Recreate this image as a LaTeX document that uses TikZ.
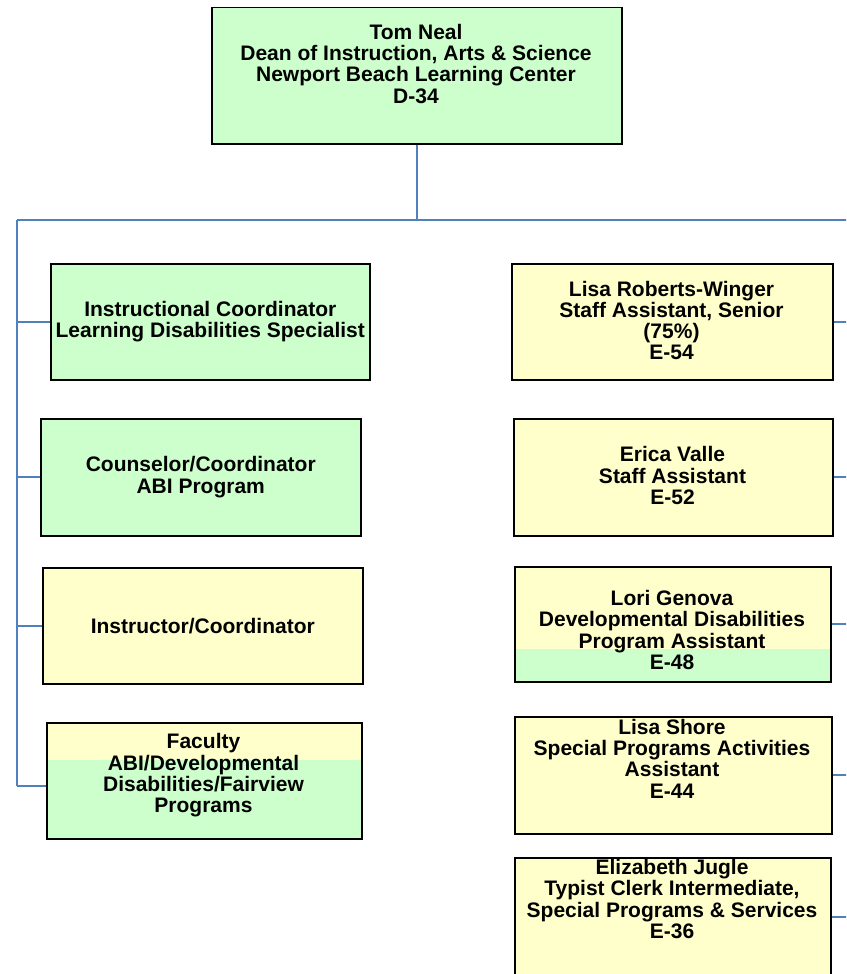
\documentclass[tikz,border=0pt]{standalone}
\usepackage{fontspec}
\setmainfont{Liberation Sans}
\definecolor{boxgreen}{HTML}{CCFFCC}
\definecolor{boxyellow}{HTML}{FFFFCC}
\definecolor{linkblue}{HTML}{4F81BD}
\begin{document}
\begin{tikzpicture}[x=1pt,y=-1pt,
  box/.style={draw=black, line width=1.5pt, inner sep=0pt, anchor=north west},
  greenbox/.style={box, fill=boxgreen},
  yellowbox/.style={box, fill=boxyellow},
  lbl/.style={font=\bfseries\fontsize{21}{21.3}\selectfont, align=center, inner sep=0pt},
  link/.style={draw=linkblue, line width=1.6pt},
  bus/.style={draw=linkblue, line width=2pt}]
\clip (0,0) rectangle (846,974);
\fill[white] (0,0) rectangle (846,974);
% coordinates of the buses
\coordinate (busL) at (17,220);
\coordinate (busR) at (856,220);
% top box
\node[greenbox, minimum width=410pt, minimum height=136pt] (dean) at (211,7) {};
\node[lbl] (deant) at (416,63.7) {Tom Neal\\Dean of Instruction, Arts \& Science\\Newport Beach Learning Center\\D-34};
% left column
\node[greenbox, minimum width=319pt, minimum height=116pt] (ic) at (50,263) {};
\node[lbl] (ict) at (ic.center) {Instructional Coordinator\\Learning Disabilities Specialist};
\node[greenbox, minimum width=320pt, minimum height=117pt] (cc) at (40,418) {};
\node[lbl] (cct) at (cc.center) {Counselor/Coordinator\\ABI Program};
\node[yellowbox, minimum width=320pt, minimum height=116pt] (instr) at (42,567) {};
\node[lbl] (instrt) at (instr.center) {Instructor/Coordinator};
\node[yellowbox, minimum width=315pt, minimum height=116pt,
  path picture={\fill[boxgreen] ([yshift=-37pt]path picture bounding box.north west) rectangle (path picture bounding box.south east);}] (fac) at (46,722) {};
\node[lbl] (fact) at (203.5,775.5) {Faculty\\ABI/Developmental\\Disabilities/Fairview\\Programs};
% right column
\node[yellowbox, minimum width=321pt, minimum height=116pt] (lrw) at (511,263) {};
\node[lbl] (lrwt) at (671.5,320.5) {Lisa Roberts-Winger\\Staff Assistant, Senior\\(75\%)\\E-54};
\node[yellowbox, minimum width=319pt, minimum height=117pt] (ev) at (513,418) {};
\node[lbl] (evt) at (672.5,475.5) {Erica Valle\\Staff Assistant\\E-52};
\node[yellowbox, minimum width=316pt, minimum height=115pt,
  path picture={\fill[boxgreen] ([yshift=-82pt]path picture bounding box.north west) rectangle (path picture bounding box.south east);}] (lg) at (514,566) {};
\node[lbl] (lgt) at (672,630) {Lori Genova\\Developmental Disabilities\\Program Assistant\\E-48};
\node[yellowbox, minimum width=317pt, minimum height=117pt] (ls) at (514,716) {};
\node[lbl] (lst) at (672,758.5) {Lisa Shore\\Special Programs Activities\\Assistant\\E-44};
\node[yellowbox, minimum width=316pt, minimum height=118pt] (ej) at (514,857) {};
\node[lbl] (ejt) at (672,899) {Elizabeth Jugle\\Typist Clerk Intermediate,\\Special Programs \& Services\\E-36};
% connectors
\draw[bus] (dean.south) -- (dean.south |- busL);
\draw[bus] (busL) -- (busR);
\draw[bus] (busL) -- ([yshift=-5pt]busL |- fac.west);
\draw[link] (busL |- ic.west) -- (ic.west);
\draw[link] (busL |- cc.west) -- (cc.west);
\draw[link] (busL |- instr.west) -- (instr.west);
\draw[link] ([yshift=-5pt]busL |- fac.west) -- ([yshift=-5pt]fac.west);
\draw[link] (lrw.east) -- (lrw.east -| busR);
\draw[link] (ev.east) -- (ev.east -| busR);
\draw[link] (lg.east) -- (lg.east -| busR);
\draw[link] (ls.east) -- (ls.east -| busR);
\draw[link] (ej.east) -- (ej.east -| busR);
\end{tikzpicture}
\end{document}
